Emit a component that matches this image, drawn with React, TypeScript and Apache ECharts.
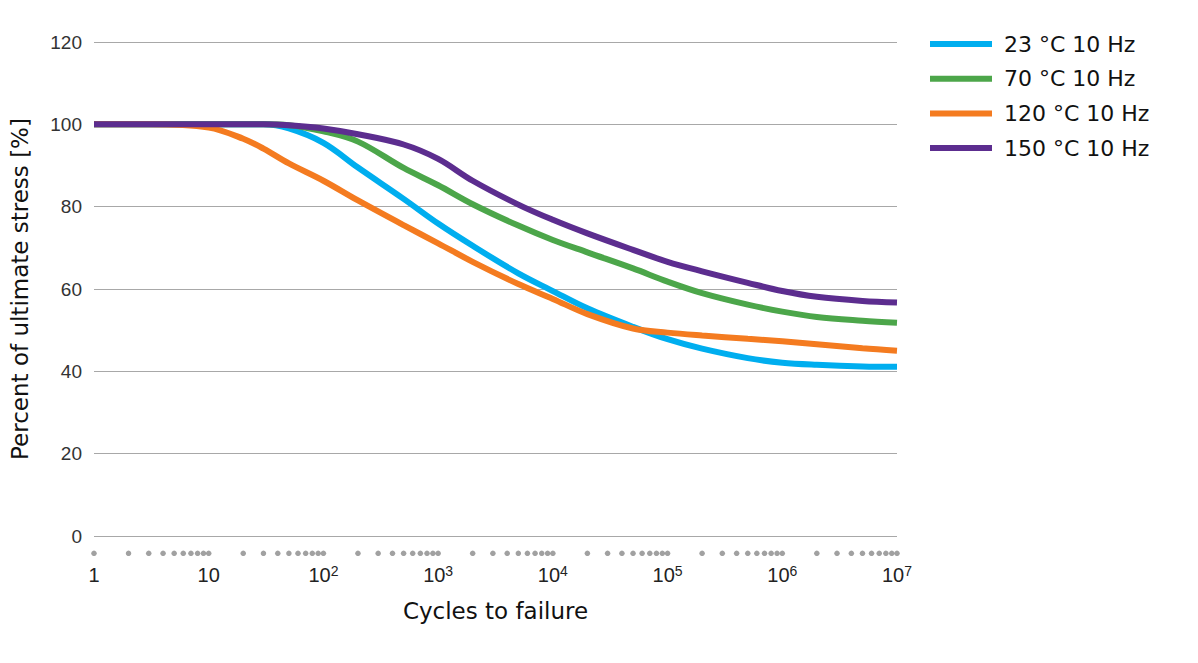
import React, { useEffect, useRef } from "react";
import * as echarts from "echarts";

const cycles = [1, 3, 10, 20, 30, 50, 100, 200, 500, 1000, 2000, 5000, 1e4, 2e4, 5e4, 1e5, 2e5, 5e5, 1e6, 2e6, 5e6, 1e7];

const s23 = [100, 100, 100, 100, 100, 99, 95.5, 89.5, 81.9, 75.9, 70.5, 63.8, 59.5, 55.3, 50.8, 47.8, 45.5, 43.2, 42.1, 41.6, 41.2, 41.1];
const s70 = [100, 100, 100, 100, 100, 99.8, 98.3, 95.8, 89.4, 85.2, 80.6, 75.4, 71.9, 68.9, 65, 61.8, 59, 56.2, 54.5, 53.2, 52.3, 51.8];
const s120 = [100, 100, 99.2, 96.5, 94.1, 90.5, 86.3, 81.5, 75.5, 71.1, 66.6, 61.2, 57.6, 53.9, 50.4, 49.4, 48.7, 47.9, 47.3, 46.6, 45.6, 45];
const s150 = [100, 100, 100, 100, 100, 99.8, 99, 97.6, 95.1, 91.6, 86.3, 80.5, 76.8, 73.5, 69.5, 66.6, 64.3, 61.5, 59.5, 58.1, 57.1, 56.7];

const seriesNames = ["23 °C 10 Hz", "70 °C 10 Hz", "120 °C 10 Hz", "150 °C 10 Hz"];
const seriesColors = ["#00AEEF", "#4CA64A", "#F47B20", "#5C2D8F"];
const seriesValues = [s23, s70, s120, s150];

const yTicks = [0, 20, 40, 60, 80, 100, 120];

// minor decade marks shown as dots under the axis: k * 10^n
const dotMultipliers = [1, 2, 3, 4, 5, 6, 7, 8, 9];
const dotDecades = [0, 1, 2, 3, 4, 5, 6];
const dotLevel = -4.2;

export default function App() {
  const ref = useRef<HTMLDivElement>(null);

  useEffect(() => {
    if (!ref.current) return;
    const chart = echarts.init(ref.current, null, { renderer: "svg" });

    const dots: number[][] = [];
    dotDecades.forEach((d) => {
      dotMultipliers.forEach((m) => dots.push([m * Math.pow(10, d), dotLevel]));
    });
    dots.push([1e7, dotLevel]);

    const font = "'Liberation Sans', Arial, Helvetica, sans-serif";
    const titleFont = "'DejaVu Sans', 'Liberation Sans', sans-serif";

    const lineSeries = seriesNames.map((name, i) => ({
      name,
      type: "line",
      data: cycles.map((c, j) => [c, seriesValues[i][j]]),
      smooth: 0.35,
      showSymbol: false,
      symbol: "none",
      lineStyle: { width: 6, color: seriesColors[i], cap: "butt" },
      itemStyle: { color: seriesColors[i] },
      z: 3 + i,
    }));

    chart.setOption({
      animation: false,
      textStyle: { fontFamily: font },
      grid: { left: 92, right: 301, top: 42, bottom: 127, containLabel: false },
      legend: {
        data: seriesNames,
        orient: "vertical",
        left: 925,
        top: 28,
        icon: "rect",
        itemWidth: 62,
        itemHeight: 6,
        itemGap: 12.7,
        textStyle: { fontSize: 22, lineHeight: 22, color: "#111", fontFamily: titleFont, padding: [0, 0, 0, 7] },
        selectedMode: false,
      },
      xAxis: {
        type: "log",
        logBase: 10,
        min: 1,
        max: 1e7,
        interval: 1,
        name: "Cycles to failure",
        nameLocation: "middle",
        nameGap: 63,
        nameTextStyle: { fontSize: 23, color: "#111", fontFamily: titleFont },
        axisLine: { show: false },
        axisTick: { show: false },
        splitLine: { show: false },
        axisLabel: {
          margin: 28,
          formatter: (v: number) => {
            const p = Math.round(Math.log10(v));
            if (p === 0) return "{b|1}";
            if (p === 1) return "{b|10}";
            return "{b|10}{sup|" + p + "}";
          },
          rich: {
            b: { fontSize: 20, color: "#222", lineHeight: 22, fontFamily: font },
            sup: { fontSize: 14, color: "#222", lineHeight: 13, verticalAlign: "top", fontFamily: font },
          },
        },
      },
      yAxis: {
        type: "value",
        min: yTicks[0],
        max: yTicks[yTicks.length - 1],
        interval: 20,
        name: "Percent of ultimate stress [%]",
        nameLocation: "middle",
        nameGap: 63,
        nameTextStyle: { fontSize: 23, color: "#111", fontFamily: titleFont },
        axisLine: { show: false },
        axisTick: { show: false },
        axisLabel: { fontSize: 19, color: "#333", margin: 12, fontFamily: font },
        splitLine: { lineStyle: { color: "#a8a8a8", width: 1 } },
      },
      series: [
        {
          name: "dots",
          type: "scatter",
          data: dots,
          symbol: "circle",
          symbolSize: 5.5,
          itemStyle: { color: "#8a8a8a" },
          clip: false,
          silent: true,
          z: 1,
        },
        ...lineSeries,
      ],
    });

    return () => chart.dispose();
  }, []);

  return (
    <div
      ref={ref}
      style={{ position: "fixed", left: 0, top: 0, width: 1198, height: 663, background: "#fff" }}
    />
  );
}
